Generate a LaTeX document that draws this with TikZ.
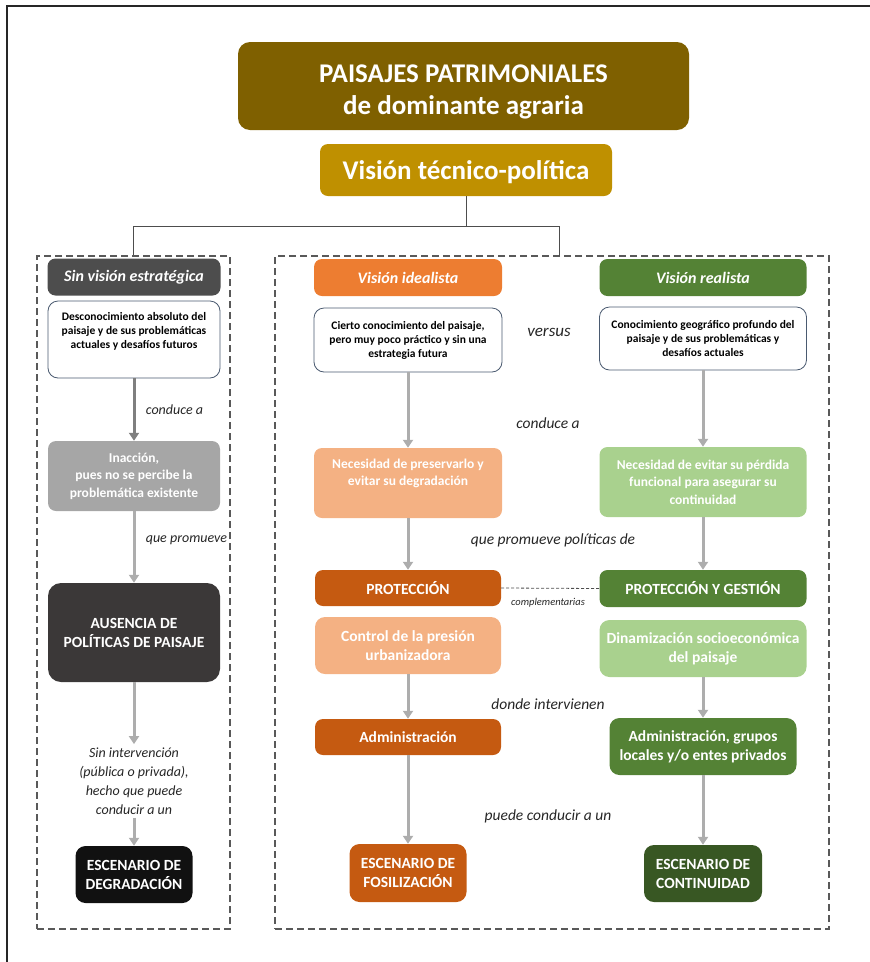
\documentclass[tikz,border=0pt]{standalone}
\usepackage{fontspec}
\setmainfont{Carlito}
\usetikzlibrary{arrows.meta}

\definecolor{oliva}{HTML}{7F6000}
\definecolor{ocre}{HTML}{BF9000}
\definecolor{grisosc}{HTML}{4D4D4D}
\definecolor{pizarra}{HTML}{4A5A70}
\definecolor{grismed}{HTML}{A6A6A6}
\definecolor{carbon}{HTML}{3B3838}
\definecolor{negro}{HTML}{111111}
\definecolor{naranja}{HTML}{ED7D31}
\definecolor{naranjacl}{HTML}{F4B183}
\definecolor{naranjaosc}{HTML}{C55A11}
\definecolor{verde}{HTML}{548235}
\definecolor{verdecl}{HTML}{A9D18E}
\definecolor{verdeosc}{HTML}{385723}
\definecolor{grisarr}{HTML}{7F7F7F}
\definecolor{grisclaro}{HTML}{ADADAD}
\definecolor{grismarco}{HTML}{595959}
\definecolor{tinta}{HTML}{262626}

\begin{document}
\begin{tikzpicture}[x=1pt, y=-1pt, auto,
	base/.style={rounded corners=8pt, align=center, inner sep=2pt, text=white},
	head node/.style={base, minimum height=37pt, font=\bfseries\itshape\fontsize{16}{19}\selectfont},
	info node/.style={base, draw=pizarra, fill=white, text=black, line width=0.8pt, rounded corners=10pt, font=\bfseries\fontsize{11.5}{14}\selectfont},
	fill node/.style={base, font=\bfseries\fontsize{13.5}{17.5}\selectfont},
	big node/.style={base, rounded corners=10pt, font=\bfseries\fontsize{15.5}{19}\selectfont},
	lbl/.style={text=tinta, align=center, font=\itshape\fontsize{14}{19}\selectfont},
	mid lbl/.style={text=tinta, font=\itshape\fontsize{15.5}{19}\selectfont},
	flecha/.style={draw=grisclaro, line width=3pt, -{Triangle[width=10pt,length=8pt]}},
	caja/.style={draw=grismarco, dash pattern=on 7pt off 4pt, line width=1.3pt},
	linea/.style={draw=grisosc, line width=1pt}]

	\useasboundingbox (0,0) rectangle (870,962);
	\draw[line width=1.2pt, black!85] (7,962) -- (7,6) -- (870,6);

	% cabecera
	\node[base, fill=oliva, minimum width=451pt, minimum height=88pt, rounded corners=12pt,
		font=\bfseries\fontsize{27}{32}\selectfont] (t1) at (463.5,86) {\rule{0pt}{29pt}PAISAJES PATRIMONIALES\\de dominante agraria};
	\node[base, fill=ocre, minimum width=292pt, minimum height=52pt,
		font=\bfseries\fontsize{27}{31}\selectfont] (t2) at (466,170) {\rule{0pt}{23pt}Visión técnico-política};

	% marcos
	\node[caja, minimum width=193pt, minimum height=673pt] (izq) at (133.5,592.5) {};
	\node[caja, minimum width=554pt, minimum height=673pt] (der) at (552,592.5) {};
	\coordinate (bar) at (466,226);
	\coordinate (dr) at (559,256);
	\draw[linea] (t2.south) -- (bar) -| (izq.north);
	\draw[linea] (bar) -| (dr);

	% sin vision estrategica
	\node[head node, fill=grisosc, minimum width=173pt] (s1) at (134,277) {Sin visión estratégica};
	\node[info node, minimum width=172pt, minimum height=77pt] (s2) at (134,339.5) {Desconocimiento absoluto del\\paisaje y de sus problemáticas\\actuales y desafíos futuros\\[5pt]};
	\node[fill node, fill=grismed, minimum width=172pt, minimum height=70pt] (s3) at (134,476) {Inacción,\\pues no se percibe la\\problemática existente};
	\node[big node, fill=carbon, minimum width=172pt, minimum height=99pt, rounded corners=13pt] (s4) at (134,632.5) {AUSENCIA DE\\POLÍTICAS DE PAISAJE};
	\node[lbl] (s5) at (134,781) {Sin intervención\\(pública o privada),\\hecho que puede\\conducir a un};
	\node[big node, fill=negro, minimum width=117pt, minimum height=57pt] (s6) at (134,874.5) {ESCENARIO DE\\DEGRADACIÓN};

	% vision idealista
	\node[head node, fill=naranja, minimum width=188pt] (i1) at (408,277.5) {Visión idealista};
	\node[info node, minimum width=188pt, minimum height=64pt] (i2) at (408,340) {Cierto conocimiento del paisaje,\\pero muy poco práctico y sin una\\estrategia futura};
	\node[fill node, fill=naranjacl, minimum width=188pt, minimum height=70pt] (i3) at (408,483) {Necesidad de preservarlo y\\evitar su degradación\\[4pt]};
	\node[big node, fill=naranjaosc, minimum width=186pt, minimum height=36pt, rounded corners=8pt] (i4) at (408,588) {PROTECCIÓN};
	\node[big node, fill=naranjacl, minimum width=186pt, minimum height=57pt] (i5) at (408,645.5) {Control de la presión\\urbanizadora};
	\node[big node, fill=naranjaosc, minimum width=186pt, minimum height=36pt, rounded corners=8pt] (i6) at (408,737) {Administración};
	\node[big node, fill=naranjaosc, minimum width=117pt, minimum height=58pt] (i7) at (408,873) {ESCENARIO DE\\FOSILIZACIÓN};

	% vision realista
	\node[head node, fill=verde, minimum width=207pt] (r1) at (703,277.5) {Visión realista};
	\node[info node, minimum width=207pt, minimum height=63pt] (r2) at (703,338.5) {Conocimiento geográfico profundo del\\paisaje y de sus problemáticas y\\desafíos actuales};
	\node[fill node, fill=verdecl, minimum width=207pt, minimum height=70pt] (r3) at (703,482) {Necesidad de evitar su pérdida\\funcional para asegurar su\\continuidad};
	\node[big node, fill=verde, minimum width=207pt, minimum height=37pt, rounded corners=8pt] (r4) at (703,588.5) {PROTECCIÓN Y GESTIÓN};
	\node[big node, fill=verdecl, minimum width=207pt, minimum height=57pt] (r5) at (703,648.5) {Dinamización socioeconómica\\del paisaje};
	\node[big node, fill=verde, minimum width=187pt, minimum height=57pt] (r6) at (703,746.5) {Administración, grupos\\locales y/o entes privados};
	\node[big node, fill=verdeosc, minimum width=118pt, minimum height=57pt] (r7) at (703,873.5) {ESCENARIO DE\\CONTINUIDAD};

	% textos centrales
	\node[mid lbl, font=\itshape\fontsize{17}{19}\selectfont] (m1) at (549,332) {versus};
	\node[mid lbl] (m2) at (548,423) {conduce a};
	\node[mid lbl] (m3) at (553,540) {que promueve políticas de};
	\node[mid lbl, font=\itshape\fontsize{10.5}{12}\selectfont] (m4) at (548,603) {complementarias};
	\node[mid lbl] (m5) at (548,704) {donde intervienen};
	\node[mid lbl] (m6) at (548,816) {puede conducir a un};

	\draw[draw=grisosc, line width=0.8pt, dash pattern=on 3pt off 2pt] (i4.east) -- (r4.west);

	\path[every edge/.append style={flecha}]
	(s2) edge[draw=grisarr] node[lbl, xshift=7pt] {conduce a} (s3)
	(s3) edge node[lbl, xshift=7pt, pos=0.4] {que promueve} (s4)
	(s4) edge (s5)
	(s5) edge (s6)
	(i2) edge (i3)
	(i3) edge (i4)
	(i5) edge (i6)
	(i6) edge (i7)
	(r2) edge (r3)
	(r3) edge (r4)
	(r5) edge (r6)
	(r6) edge (r7);
\end{tikzpicture}
\end{document}
